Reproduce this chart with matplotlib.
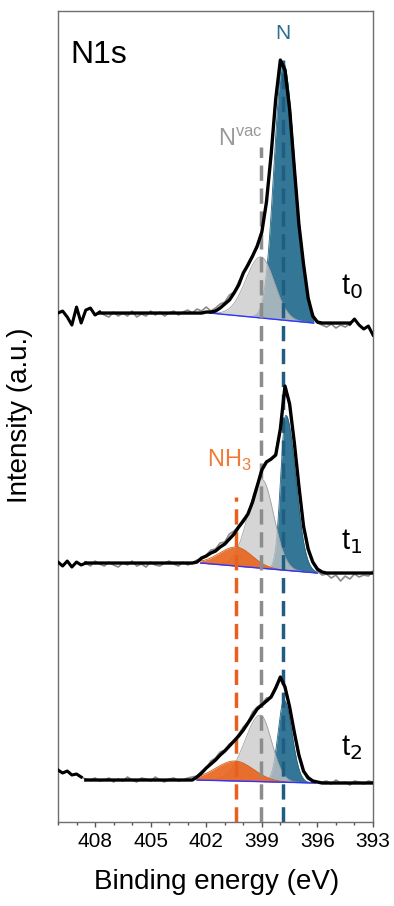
import numpy as np
import matplotlib.pyplot as plt
from matplotlib.ticker import MultipleLocator

plt.rcParams['font.family'] = ['Liberation Sans', 'DejaVu Sans']
plt.rcParams['lines.scale_dashes'] = False

# raw scans are sampled every 0.25 eV from 410 to 393 eV
raw_energy = np.linspace(410.0, 393.0, 69)

labels = ['t$_0$', 't$_1$', 't$_2$']
label_y = [5.35, 2.80, 0.74]

# background levels on the high / low binding energy side
bg_left = [5.09, 2.59, 0.42]
bg_right = [4.99, 2.49, 0.39]
bg_range = [(396.2, 401.8), (396.0, 402.3), (396.1, 402.5)]
fit_window = [(394.25, 407.75), (393.0, 408.5), (393.0, 408.6)]

# smoothed spectrum (black line) across the peak region, 0.25 eV steps
env_start = [402.0, 402.5, 402.5]
env_t0 = [5.10, 5.10, 5.11, 5.14, 5.18, 5.22, 5.29, 5.37, 5.49, 5.57, 5.66, 5.76, 5.90,
          6.20, 6.67, 7.23, 7.62, 7.52, 7.13, 6.55, 5.98, 5.58, 5.24, 5.06, 5.00]
env_t1 = [2.60, 2.64, 2.66, 2.69, 2.71, 2.75, 2.78, 2.83, 2.88, 2.95, 3.01, 3.08, 3.20, 3.36,
          3.52, 3.60, 3.63, 3.67, 3.93, 4.36, 4.18, 3.80, 3.36, 2.96, 2.73, 2.60, 2.53, 2.50]
env_t2 = [0.45, 0.49, 0.54, 0.58, 0.62, 0.67, 0.71, 0.76, 0.81, 0.86, 0.92, 0.99, 1.06, 1.13,
          1.17, 1.21, 1.25, 1.34, 1.45, 1.35, 1.15, 0.90, 0.67, 0.51, 0.44, 0.41, 0.40, 0.39]
env_peak = [env_t0, env_t1, env_t2]

# fitted components: (centre eV, height, hwhm high-BE side, hwhm low-BE side, lorentz fraction)
n_peak = [(397.85, 2.58, 0.57, 0.74, 0.0),
          (397.70, 1.55, 0.33, 0.62, 0.0),
          (397.80, 0.82, 0.38, 0.50, 0.0)]
nvac_peak = [(399.05, 0.61, 0.95, 0.85, 0.0),
             (399.00, 0.89, 0.86, 0.76, 0.0),
             (399.08, 0.665, 0.99, 0.72, 0.0)]
nh3_peak = [None,
            (400.36, 0.19, 1.08, 0.98, 0.0),
            (400.45, 0.20, 1.25, 1.17, 0.0)]

# raw data minus smoothed spectrum, in 0.01 a.u.
resid_t0 = [0, 2, -4, -12, 6, -10, 3, 5, -2, 1,
            -2, -4, 1, -3, 0, -3, 2, -4, -1, -3, 2, -2, 1, -3, 0, 2, -2, 1, 3, 0, 4, 2, 5, 1, 3,
            4, 2, 5, 1, 3, -1, 2, 1, -2, 1, -1, 2, 1, -1, 2, 1, -1, 3, 1, -2, 1, -1,
            -2, -4, -1, -5, -2, -4, -1, 4, -2, -6, -3, -12]
resid_t1 = [1, -3, 2, -4, 1, -2, 0, -3, 2, -1,
            -3, 1, -2, -4, 0, -2, 2, -3, -1, -4, 1, -2, -3, 0, 2, -1, -3, 1, -2, 0, 2, -1, 1, 3, 2,
            4, 2, 5, 3, 1, 2, -1, 2, 1, 3, 1, -1, 2, 1, 0, 2, -1, 1, -2, 1, -1, -2,
            -3, -1, -5, -2, -8, -3, -6, -1, -4, -2, -3, 2]
resid_t2 = [10, 7, 9, 5, 6, 3, 1, 0, 2, -1,
            0, 2, -2, 1, -1, 3, 0, -2, 2, 1, -1, 3, 0, -2, 1, 2, -1, 0, 2, 3, 1, 2, 0, 3, 2,
            3, 1, 2, 0, 2, 3, 1, 4, 2, 1, 3, 0, 2, -1, 1, 2, 0, 1, -1, 2, 1, 0,
            1, 2, -1, 3, 0, 1, -2, 2, 1, -1, 2, 1]
residuals = [resid_t0, resid_t1, resid_t2]

# reference positions of the three nitrogen species
line_pos = [397.85, 399.07, 400.40]
line_top = [7.62, 6.75, 3.25]
line_col = ['#1f5d82', '#8c8c8c', '#e8601c']


def peak(e, c, h, wl, wr, eta):
    w = np.where(e > c, wl, wr)
    x = (e - c) / w
    return h * ((1 - eta) * np.exp(-np.log(2) * x ** 2) + eta / (1 + x ** 2))


def background(e, k):
    lo, hi = bg_range[k]
    f = np.clip((e - lo) / (hi - lo), 0, 1)
    return bg_right[k] + (bg_left[k] - bg_right[k]) * f


styles = {'n': ('#347696', 1.0, '#2a6482', 1),
          'vac': ('#c8c8c8', 0.75, '#a0a0a0', 2),
          'nh3': ('#e8641e', 0.9, '#d05a10', 3)}

fig = plt.figure(figsize=(3.94, 9.06), dpi=100)
ax = fig.add_axes([0.1472, 0.0927, 0.7995, 0.8951])

e = np.linspace(410.0, 393.0, 1701)

for k in range(3):
    bg = background(e, k)
    parts = [('n', n_peak[k]), ('vac', nvac_peak[k]), ('nh3', nh3_peak[k])]
    lo, hi = bg_range[k]
    m = (e >= lo) & (e <= hi)
    for name, par in parts:
        if par is None:
            continue
        p = peak(e, *par)
        fc, a, ec, z = styles[name]
        ax.fill_between(e[m], bg[m], bg[m] + p[m], color=fc, alpha=a, lw=0, zorder=z)
        ax.plot(e[m], bg[m] + p[m], color=ec, lw=0.6, zorder=z)
    ax.plot(e[m], bg[m], color='#3333ff', lw=1.0, zorder=4)

    # smoothed spectrum on the raw grid, flat outside the peak region
    n_left = int(round((410.0 - env_start[k]) / 0.25))
    n_right = len(raw_energy) - n_left - len(env_peak[k])
    env = np.array([bg_left[k]] * n_left + env_peak[k] + [bg_right[k]] * n_right)
    raw = env + np.array(residuals[k]) / 100
    ax.plot(raw_energy, raw, color='#8a8a8a', lw=1.2, zorder=5)

    wlo, whi = fit_window[k]
    left = raw_energy >= whi
    right = raw_energy <= wlo
    if left.any():
        ax.plot(raw_energy[left], raw[left], color='black', lw=2.2, zorder=7)
    if right.any() and wlo > 393.0:
        ax.plot(raw_energy[right], raw[right], color='black', lw=2.2, zorder=7)
    fw = (raw_energy >= wlo) & (raw_energy <= whi)
    ax.plot(raw_energy[fw], env[fw], color='black', lw=2.4, zorder=7,
            solid_joinstyle='round')

    ax.text(394.15, label_y[k], labels[k], fontsize=21, ha='center', va='center', zorder=8)

for x, top, c in zip(line_pos, line_top, line_col):
    ax.plot([x, x], [0, top], color=c, lw=2.5, dashes=(11, 5.5), zorder=6)

ax.text(409.35, 7.67, 'N1s', fontsize=23, ha='left', va='center')
ax.text(397.85, 7.89, 'N', fontsize=15, color='#2c6e91', ha='center', va='center')
ax.text(398.94, 6.82, 'N$^{\\mathregular{vac}}$', fontsize=17, color='#999999', ha='right', va='center')
ax.text(400.74, 3.62, 'NH$_\\mathregular{3}$', fontsize=17, color='#f07a36', ha='center', va='center')

ax.set_xlim(410, 393)
ax.set_ylim(0, 8.11)
ax.set_xticks([408, 405, 402, 399, 396, 393])
ax.xaxis.set_minor_locator(MultipleLocator(1))
ax.set_yticks([])
ax.tick_params(axis='x', which='major', direction='out', length=3.6, width=1, labelsize=15,
               pad=3.5, color='#555555')
ax.tick_params(axis='x', which='minor', direction='out', length=2, width=1, color='#555555')
for s in ax.spines.values():
    s.set_color('#6e6e6e')
    s.set_linewidth(1)

ax.set_xlabel('Binding energy (eV)', fontsize=20)
ax.xaxis.set_label_coords(0.503, -0.074)
ax.xaxis.label.set_va('center')
ax.set_ylabel('Intensity (a.u.)', fontsize=20)
ax.yaxis.set_label_coords(-0.1206, 0.502)
ax.yaxis.label.set_va('center')

fig.savefig('out.png', dpi=100)
